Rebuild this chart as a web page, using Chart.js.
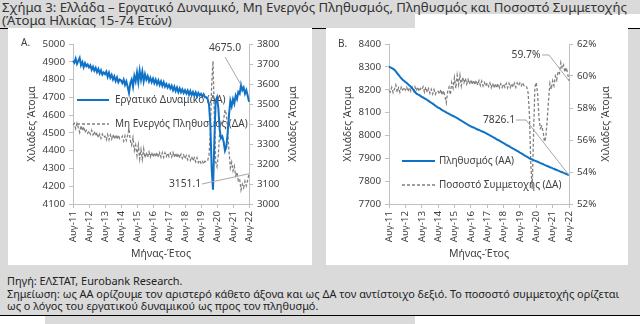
<!DOCTYPE html>
<html><head><meta charset="utf-8">
<script src="https://cdn.jsdelivr.net/npm/chart.js@4.4.1/dist/chart.umd.min.js"></script>
<style>
html,body{margin:0;padding:0;}
body{width:640px;height:324px;position:relative;overflow:hidden;background:#dadada;font-family:"Noto Sans",sans-serif;color:#333;}
.abs{position:absolute;}
.t{position:absolute;left:2px;font-size:13.2px;line-height:13px;white-space:nowrap;color:#333;}
.panel{position:absolute;background:#fff;}
.fn{position:absolute;left:7px;font-size:10.9px;line-height:12px;white-space:nowrap;color:#222;}
canvas{display:block;}
</style></head><body>
<div class="abs" style="left:415px;top:14px;width:225px;height:14px;background:#fff"></div>
<div class="abs" style="left:0;top:28px;width:640px;height:1px;background:#000"></div>
<div class="t" style="top:1px">Σχήμα 3: Ελλάδα – Εργατικό Δυναμικό, Μη Ενεργός Πληθυσμός, Πληθυσμός και Ποσοστό Συμμετοχής</div>
<div class="t" style="top:14px">(Άτομα Ηλικίας 15-74 Ετών)</div>
<div class="panel" style="left:8px;top:28px;width:304px;height:237px"><canvas id="c1" width="304" height="237"></canvas></div>
<div class="panel" style="left:326px;top:28px;width:302px;height:237px"><canvas id="c2" width="302" height="237"></canvas></div>
<div class="fn" style="top:275px">Πηγή: ΕΛΣΤΑΤ, Eurobank Research.</div>
<div class="fn" style="top:288px">Σημείωση: ως ΑΑ ορίζουμε τον αριστερό κάθετο άξονα και ως ΔΑ τον αντίστοιχο δεξιό. Το ποσοστό συμμετοχής ορίζεται</div>
<div class="fn" style="top:300px">ως ο λόγος του εργατικού δυναμικού ως προς τον πληθυσμό.</div>
<div class="abs" style="left:0;top:315px;width:640px;height:1px;background:#000"></div>
<div class="abs" style="left:0;top:316px;width:45px;height:8px;background:#fff"></div>
<div class="abs" style="left:415px;top:316px;width:225px;height:8px;background:#fff"></div>
<script>
// ---- Categories (monthly, Aug-11 .. Aug-22)
const monthNames = ['Αυγ','Σεπ','Οκτ','Νοε','Δεκ','Ιαν','Φεβ','Μαρ','Απρ','Μαϊ','Ιουν','Ιουλ'];
const firstYear = 11;
const monthCount = 133;

// ---- Series A: Labour force (left axis), thousands
const laborForce = [
 4906,4895,4918,4888,4905,4922,4880,4898,4870,4893,4875,4885,
 4868,4880,4855,4872,4850,4866,4842,4860,4835,4852,4828,4840,
 4830,4845,4815,4838,4810,4826,4800,4818,4792,4812,4785,4800,
 4795,4780,4800,4770,4790,4760,4725,4780,4800,4760,4820,4790,
 4840,4785,4850,4800,4845,4790,4830,4800,4820,4790,4810,4785,
 4805,4780,4800,4775,4795,4770,4790,4765,4785,4760,4775,4755,
 4770,4750,4765,4740,4760,4735,4755,4730,4750,4728,4745,4725,
 4740,4722,4738,4715,4735,4712,4730,4710,4728,4705,4725,4710,
 4720,4705,4718,4700,4700,4690,4660,4550,4300,4180,4450,4680,
 4700,4640,4520,4470,4480,4450,4400,4420,4500,4600,4680,4650,
 4690,4665,4710,4690,4730,4720,4770,4740,4755,4720,4740,4710,
 4675.0];

// ---- Series A: Inactive population (right axis), thousands
const inactive = [
 3395,3403,3377,3403,3382,3358,3392,3367,3387,3357,3369,3354,
 3366,3349,3369,3346,3363,3340,3357,3331,3349,3328,3349,3333,
 3339,3321,3347,3321,3345,3325,3347,3325,3347,3323,3345,3326,
 3327,3339,3315,3341,3318,3344,3376,3317,3294,3331,3268,3295,
 3242,3294,3226,3272,3223,3275,3231,3257,3234,3260,3236,3258,
 3235,3257,3235,3257,3234,3256,3234,3256,3233,3256,3238,3255,
 3237,3254,3235,3257,3234,3255,3232,3253,3230,3249,3228,3245,
 3226,3241,3221,3241,3218,3237,3216,3232,3211,3231,3207,3219,
 3205,3217,3200,3214,3211,3217,3244,3350,3597,3715,3442,3210,
 3187,3245,3362,3409,3397,3424,3471,3449,3366,3264,3181,3209,
 3166,3189,3141,3159,3116,3124,3071,3099,3081,3114,3091,3119,
 3151.1];

// ---- Series B: Population 15-74 (left axis), thousands
const population = [
 8301,8298,8295,8291,8287,8280,8272,8265,8257,8250,8244,8239,
 8234,8229,8224,8218,8213,8206,8199,8191,8184,8180,8177,8173,
 8169,8166,8162,8159,8155,8151,8147,8143,8139,8135,8130,8126,
 8122,8119,8115,8111,8108,8104,8101,8097,8094,8091,8088,8085,
 8082,8079,8076,8072,8068,8065,8061,8057,8054,8050,8046,8043,
 8040,8037,8035,8032,8029,8026,8024,8021,8018,8016,8013,8010,
 8007,8004,8000,7997,7994,7990,7987,7983,7980,7977,7973,7970,
 7966,7963,7959,7956,7953,7949,7946,7942,7939,7936,7932,7929,
 7925,7922,7918,7914,7911,7907,7904,7900,7897,7895,7892,7890,
 7887,7885,7882,7879,7877,7874,7871,7869,7866,7864,7861,7859,
 7856,7854,7851,7849,7846,7844,7841,7839,7836,7834,7831,7829,
 7826.1];

// ---- Series B: Participation rate (right axis), %
const participation = [
 59.10,58.99,59.29,58.96,59.19,59.44,58.99,59.26,58.98,59.31,59.13,59.29,
 59.12,59.30,59.03,59.28,59.05,59.30,59.06,59.33,59.08,59.32,59.04,59.22,
 59.13,59.33,58.99,59.30,58.98,59.21,58.92,59.17,58.88,59.15,58.86,59.07,
 59.04,58.87,59.15,58.81,59.08,58.74,58.33,59.03,59.30,58.83,59.59,59.25,
 59.89,59.23,60.05,59.46,60.05,59.39,59.92,59.58,59.85,59.50,59.78,59.49,
 59.76,59.47,59.74,59.45,59.72,59.43,59.70,59.41,59.68,59.38,59.59,59.36,
 59.57,59.35,59.56,59.27,59.54,59.26,59.53,59.25,59.52,59.27,59.51,59.28,
 59.50,59.30,59.53,59.26,59.54,59.28,59.53,59.31,59.55,59.29,59.57,59.40,
 59.56,59.39,59.59,59.39,59.41,59.31,58.96,57.59,54.45,52.95,56.39,59.32,
 59.59,58.85,57.35,56.73,56.87,56.52,55.90,56.17,57.21,58.49,59.53,59.17,
 59.70,59.40,59.99,59.75,60.29,60.17,60.83,60.47,60.68,60.25,60.53,60.16,
 59.7];

// ---- Axis ranges / tick steps
const axisA_left = {min:4100, max:5000, step:100};
const axisA_right = {min:3000, max:3800, step:100};
const axisB_left = {min:7700, max:8400, step:100};
const axisB_right = {min:52, max:62, step:2};

const labels = [];
for (let i = 0; i < monthCount; i++) {
  labels.push(monthNames[i % 12] + '-' + (firstYear + Math.floor((i + 7) / 12)));
}

const FAM = '"Noto Sans", sans-serif';
const TXT = '#404040';
const AXIS = '#bfbfbf';
const BLUE = '#0f72c6';
const GREY = '#7f7f7f';
const TICKF = {family: FAM, size: 9.8};

function xScale() {
  return {
    type: 'category',
    ticks: {autoSkip: false, maxRotation: 90, minRotation: 90, color: TXT, font: TICKF, padding: 3,
      callback: function (v, i) { return i % 12 === 0 ? this.getLabelForValue(v) : null; }},
    grid: {display: true, drawOnChartArea: false, drawTicks: true, tickLength: 4, color: AXIS},
    border: {display: true, color: AXIS},
    title: {display: true, text: 'Μήνας-Έτος', color: TXT, font: {family: FAM, size: 10.5}, padding: {top: 0, bottom: 5}},
    afterFit(s) { s.height = 61; }
  };
}
function yScale(pos, rng, width, fmt) {
  return {
    type: 'linear', position: pos, min: rng.min, max: rng.max,
    ticks: {stepSize: rng.step, color: TXT, font: TICKF, padding: 4,
      callback: fmt || (v => v)},
    grid: {display: true, drawOnChartArea: false, tickLength: 4, color: AXIS},
    border: {display: true, color: AXIS},
    afterFit(s) { s.width = width; }
  };
}

const decor = {
  id: 'decor',
  beforeDatasetsDraw(chart, args, o) {
    const ctx = chart.ctx, ca = chart.chartArea;
    ctx.save();
    ctx.fillStyle = TXT; ctx.font = '10px ' + FAM; ctx.textBaseline = 'middle'; ctx.textAlign = 'left';
    ctx.fillText(o.letter, o.letterX, o.letterY);
    const cy = (ca.top + ca.bottom) / 2;
    o.yTitles.forEach(xp => {
      ctx.save(); ctx.translate(xp, cy); ctx.rotate(-Math.PI / 2);
      ctx.textAlign = 'center'; ctx.textBaseline = 'middle'; ctx.font = '10.5px ' + FAM; ctx.fillStyle = TXT;
      ctx.fillText('Χιλιάδες Άτομα', 0, 0); ctx.restore();
    });
    o.legend.forEach(it => {
      const ds = chart.data.datasets[it.ds];
      const y = ca.top + it.y;
      ctx.save();
      ctx.strokeStyle = ds.borderColor; ctx.lineWidth = ds.borderWidth; ctx.setLineDash(ds.borderDash || []);
      ctx.beginPath(); ctx.moveTo(ca.left + it.x0, y); ctx.lineTo(ca.left + it.x1, y); ctx.stroke();
      ctx.restore();
      ctx.fillStyle = TXT; ctx.font = '10px ' + FAM; ctx.textAlign = 'left'; ctx.textBaseline = 'middle';
      ctx.fillText(ds.label, ca.left + it.tx, y);
    });
    ctx.restore();
  },
  afterDatasetsDraw(chart, args, o) {
    const ctx = chart.ctx;
    ctx.save();
    o.notes.forEach(n => {
      const ds = chart.data.datasets[n.ds];
      const meta = chart.getDatasetMeta(n.ds);
      const pt = meta.data[n.idx];
      ctx.strokeStyle = '#a6a6a6'; ctx.lineWidth = 1;
      ctx.beginPath();
      ctx.moveTo(n.path[0][0], n.path[0][1]);
      for (let k = 1; k < n.path.length; k++) ctx.lineTo(n.path[k][0], n.path[k][1]);
      ctx.lineTo(pt.x, pt.y);
      ctx.stroke();
      const last = ds.data[ds.data.length - 1];
      ctx.fillStyle = TXT; ctx.font = '10.3px ' + FAM; ctx.textAlign = 'center'; ctx.textBaseline = 'middle';
      ctx.fillText(n.fmt(last), n.lx, n.ly);
    });
    ctx.restore();
  }
};

function peakIndex(arr, from) {
  let b = from;
  for (let i = from; i < arr.length; i++) if (arr[i] > arr[b]) b = i;
  return b;
}

new Chart(document.getElementById('c1'), {
  type: 'line',
  data: {labels, datasets: [
    {label: 'Εργατικό Δυναμικό (ΑΑ)', data: laborForce, yAxisID: 'y', borderColor: BLUE, borderWidth: 2, pointRadius: 0, tension: 0},
    {label: 'Μη Ενεργός Πληθυσμός (ΔΑ)', data: inactive, yAxisID: 'y1', borderColor: GREY, borderWidth: 1.3, borderDash: [3, 2], pointRadius: 0, tension: 0}
  ]},
  options: {
    responsive: false, animation: false, devicePixelRatio: 1,
    layout: {padding: {top: 16, left: 0, right: 0, bottom: 0}},
    scales: {x: xScale(), y: yScale('left', axisA_left, 65), y1: yScale('right', axisA_right, 63)},
    plugins: {legend: {display: false}, tooltip: {enabled: false},
      decor: {letter: 'Α.', letterX: 13, letterY: 15, yTitles: [24, 285],
        legend: [{ds: 0, x0: 4, x1: 36, tx: 42, y: 56}, {ds: 1, x0: 4, x1: 36, tx: 42, y: 80}],
        notes: [
          {ds: 0, idx: peakIndex(laborForce, 120), lx: 217, ly: 20, path: [[217, 29]], fmt: v => v.toFixed(1)},
          {ds: 1, idx: inactive.length - 1, lx: 177, ly: 156, path: [[194, 156]], fmt: v => v.toFixed(1)}
        ]}}
  },
  plugins: [decor]
});

new Chart(document.getElementById('c2'), {
  type: 'line',
  data: {labels, datasets: [
    {label: 'Πληθυσμός (ΑΑ)', data: population, yAxisID: 'y', borderColor: BLUE, borderWidth: 2, pointRadius: 0, tension: 0},
    {label: 'Ποσοστό Συμμετοχής (ΔΑ)', data: participation, yAxisID: 'y1', borderColor: GREY, borderWidth: 1.3, borderDash: [3, 2], pointRadius: 0, tension: 0}
  ]},
  options: {
    responsive: false, animation: false, devicePixelRatio: 1,
    layout: {padding: {top: 16, left: 0, right: 0, bottom: 0}},
    scales: {x: xScale(), y: yScale('left', axisB_left, 63), y1: yScale('right', axisB_right, 59, v => v + '%')},
    plugins: {legend: {display: false}, tooltip: {enabled: false},
      decor: {letter: 'Β.', letterX: 12, letterY: 16, yTitles: [22, 280],
        legend: [{ds: 0, x0: 13, x1: 46, tx: 50, y: 117}, {ds: 1, x0: 13, x1: 46, tx: 50, y: 141}],
        notes: [
          {ds: 1, idx: participation.length - 1, lx: 200, ly: 27, path: [[216, 27], [223, 27]], fmt: v => v.toFixed(1) + '%'},
          {ds: 0, idx: population.length - 1, lx: 173, ly: 92, path: [[190, 92], [200, 92]], fmt: v => v.toFixed(1)}
        ]}}
  },
  plugins: [decor]
});
</script>
</body></html>
